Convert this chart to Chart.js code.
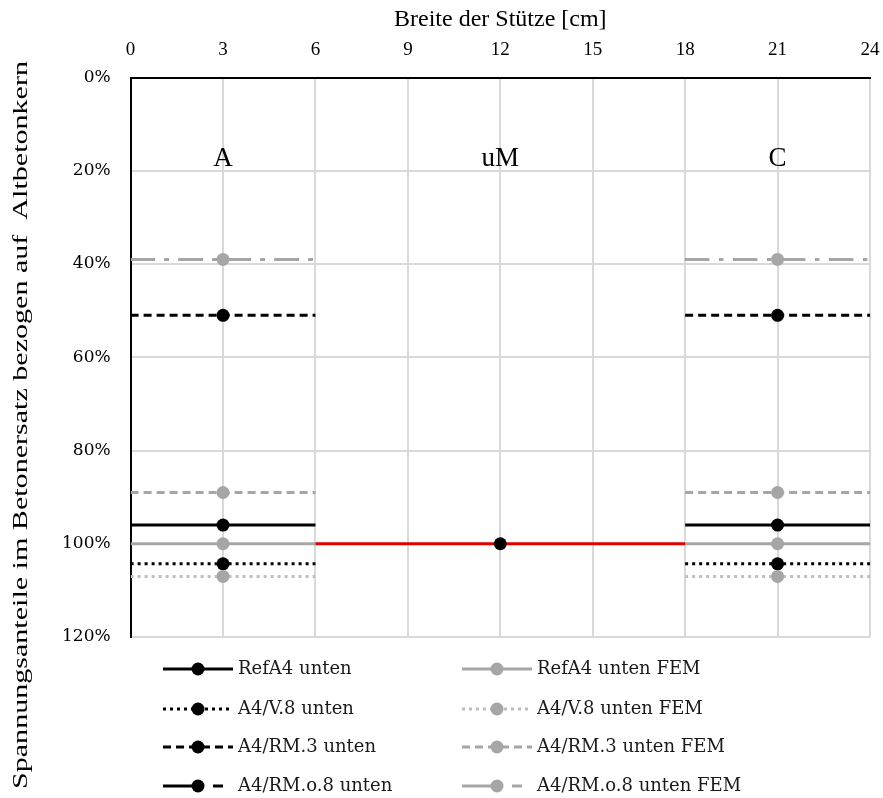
<!DOCTYPE html>
<html>
<head>
<meta charset="utf-8">
<script src="https://cdn.jsdelivr.net/npm/chart.js@4.4.1/dist/chart.umd.min.js"></script>
<style>
  body { margin: 0; background: #fff; }
  #wrap { position: relative; width: 883px; height: 798px; }
  #chart { position: absolute; left: 0; top: 0; }
  #legend { position: absolute; left: 0; top: 650px; width: 883px; height: 148px;
            font-family: "DejaVu Serif", serif; font-size: 18px; color: #1a1a1a; }
  .item { position: absolute; height: 24px; line-height: 24px; white-space: nowrap; }
  .item svg { vertical-align: middle; margin-right: 5px; }
</style>
</head>
<body>
<div id="wrap">
  <canvas id="chart" width="883" height="798"></canvas>
  <div id="legend"></div>
</div>
<script>
// ticks
var xTicks = [0, 3, 6, 9, 12, 15, 18, 21, 24];
var yTicks = [0, 20, 40, 60, 80, 100, 120];

// x positions of the two outer zones and the middle zone
var zoneA = [0, 3, 6];
var zoneC = [18, 21, 24];
var zoneM = [6, 12, 18];
var zoneNames = ['A', 'uM', 'C'];
var zoneNameX = [3, 12, 21];

// series (percent of stress)
var seriesNames = [
  'RefA4 unten', 'RefA4 unten FEM',
  'A4/V.8 unten', 'A4/V.8 unten FEM',
  'A4/RM.3 unten', 'A4/RM.3 unten FEM',
  'A4/RM.o.8 unten', 'A4/RM.o.8 unten FEM'
];
var seriesValues = [96, 100, 104.3, 107, 51, 89, 39, 39];
var uMValue = 100;

var black = '#000000', grey = '#a6a6a6', lightGrey = '#bfbfbf';
var styles = [
  {c: black, p: black, d: []}, {c: grey, p: grey, d: []},
  {c: black, p: black, d: [3, 4]}, {c: lightGrey, p: grey, d: [3, 4]},
  {c: black, p: black, d: [8, 5]}, {c: grey, p: grey, d: [8, 5]},
  {c: black, p: black, d: [24, 10, 4, 10]}, {c: grey, p: grey, d: [24, 10, 4, 10]}
];
var legendDash = ['', '', '3 4', '3 4', '8 5', '8 5', '38 12 10 12', '38 12 10 12'];

// first dataset is painted on top
var datasets = [{
  label: 'uM',
  data: zoneM.map(function(x) { return {x: x, y: uMValue}; }),
  borderColor: '#e00000',
  backgroundColor: black,
  borderWidth: 3,
  pointRadius: [0, 6.5, 0],
  pointBorderWidth: 0
}];
[7, 6, 5, 4, 3, 2, 1, 0].forEach(function(i) {
  var v = seriesValues[i];
  var pts = zoneA.map(function(x) { return {x: x, y: v}; });
  pts.push({x: 12, y: null});
  zoneC.forEach(function(x) { pts.push({x: x, y: v}); });
  datasets.push({
    label: seriesNames[i],
    data: pts,
    borderColor: styles[i].c,
    backgroundColor: styles[i].p,
    borderWidth: i === 6 ? 2 : 3,
    borderDash: styles[i].d,
    pointRadius: [0, i === 6 ? 5.5 : 6.5, 0, 0, 0, i === 6 ? 5.5 : 6.5, 0],
    pointBorderWidth: 0,
    spanGaps: false
  });
});

var extras = {
  id: 'extras',
  afterDatasetsDraw: function(chart) {
    var ctx = chart.ctx;
    ctx.save();
    ctx.font = '27px "Liberation Serif", serif';
    ctx.fillStyle = '#000';
    ctx.textAlign = 'center';
    ctx.textBaseline = 'middle';
    zoneNames.forEach(function(n, i) {
      ctx.fillText(n, chart.scales.x.getPixelForValue(zoneNameX[i]), chart.scales.y.getPixelForValue(17.5));
    });
    ctx.restore();
  },
  afterDraw: function(chart) {
    // y title, stretched along its length like the original
    var ctx = chart.ctx;
    var text = 'Spannungsanteile im Betonersatz bezogen auf  Altbetonkern';
    ctx.save();
    ctx.font = '21px "Liberation Serif", serif';
    ctx.fillStyle = '#000';
    ctx.textAlign = 'center';
    ctx.textBaseline = 'middle';
    var w = ctx.measureText(text).width;
    ctx.translate(21, 425);
    ctx.rotate(-Math.PI / 2);
    ctx.scale(728 / w, 1);
    ctx.fillText(text, 0, 0);
    ctx.restore();
  }
};

new Chart(document.getElementById('chart').getContext('2d'), {
  type: 'line',
  data: {datasets: datasets},
  plugins: [extras],
  options: {
    responsive: false,
    animation: false,
    layout: {padding: {left: 42, right: 13, top: 5, bottom: 161}},
    plugins: {legend: {display: false}, tooltip: {enabled: false}},
    scales: {
      x: {
        type: 'linear', position: 'top', min: 0, max: 24,
        afterBuildTicks: function(s) { s.ticks = xTicks.map(function(v) { return {value: v}; }); },
        afterFit: function(s) { s.paddingRight = 0; },
        ticks: {color: '#000', font: {family: '"Liberation Serif", serif', size: 19}, padding: 16},
        grid: {color: '#d9d9d9', lineWidth: 2, drawTicks: false},
        border: {color: '#000', width: 2},
        title: {display: true, text: 'Breite der Stütze [cm]', color: '#000',
                font: {family: '"Liberation Serif", serif', size: 24}, padding: {top: 0, bottom: -11}}
      },
      y: {
        type: 'linear', reverse: true, min: 0, max: 120,
        afterBuildTicks: function(s) { s.ticks = yTicks.map(function(v) { return {value: v}; }); },
        ticks: {color: '#000', font: {family: '"DejaVu Serif", serif', size: 17}, padding: 20,
                callback: function(v) { return v + '%'; }},
        grid: {color: '#d9d9d9', lineWidth: 2, drawTicks: false},
        border: {color: '#000', width: 2}
      }
    }
  }
});

// legend: two columns, four rows
var legend = document.getElementById('legend');
var colX = [163, 462];
var rowY = [6, 46, 84, 123];
seriesNames.forEach(function(name, i) {
  var st = styles[i];
  var div = document.createElement('div');
  div.className = 'item';
  div.style.left = colX[i % 2] + 'px';
  div.style.top = rowY[Math.floor(i / 2)] + 'px';
  var dash = legendDash[i] ? ' stroke-dasharray="' + legendDash[i] + '"' : '';
  div.innerHTML = '<svg width="70" height="14"><line x1="0" y1="7" x2="70" y2="7" stroke="' + st.c +
    '" stroke-width="3"' + dash + '/><circle cx="35" cy="7" r="6.5" fill="' + st.p + '"/></svg>' + name;
  legend.appendChild(div);
});
</script>
</body>
</html>
